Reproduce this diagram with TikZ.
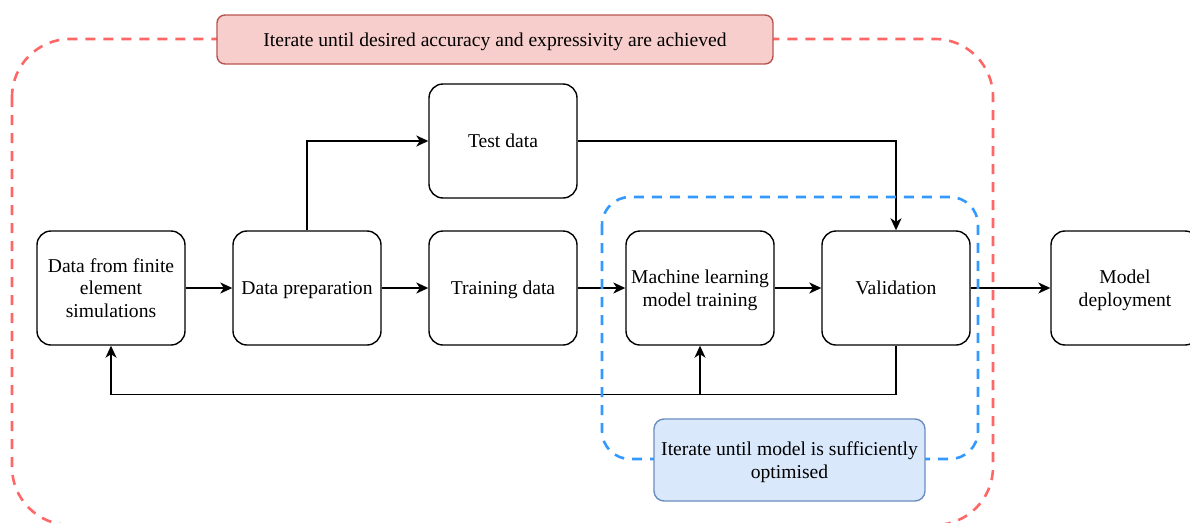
\documentclass[tikz,border=0pt]{standalone}
\usepackage{fontspec}
\setmainfont{Liberation Serif}
\usetikzlibrary{arrows.meta}
\definecolor{redline}{HTML}{FF6666}
\definecolor{redfill}{HTML}{F8CECC}
\definecolor{redborder}{HTML}{B85450}
\definecolor{blueline}{HTML}{3399FF}
\definecolor{bluefill}{HTML}{DAE8FC}
\definecolor{blueborder}{HTML}{6C8EBF}
\begin{document}
\begin{tikzpicture}[x=1pt,y=-1pt,
  txt/.style={font=\fontsize{19.6}{22.5}\selectfont, align=center, inner sep=0pt, text=black, text depth=-4pt},
  box/.style={txt, draw=black, fill=white, line width=1.4pt, rounded corners=14pt, minimum width=148pt, minimum height=114pt},
  arr/.style={draw=black, line width=1.4pt, -{Stealth[length=12pt,width=11pt,inset=3.5pt]}},
  reddash/.style={draw=redline, line width=2.6pt, dash pattern=on 10pt off 8pt, rounded corners=58pt},
  bluedash/.style={draw=blueline, line width=2.6pt, dash pattern=on 10pt off 8pt, rounded corners=28pt},
  redlabel/.style={txt, draw=redborder, fill=redfill, line width=1.4pt, rounded corners=8pt, minimum width=556pt, minimum height=49pt},
  bluelabel/.style={txt, draw=blueborder, fill=bluefill, line width=1.4pt, rounded corners=10pt, minimum width=271pt, minimum height=82pt}
]
\useasboundingbox (0,0) rectangle (1190,522);
% nodes
\node[box] (dfe) at (111,288) {Data from finite\\element\\simulations};
\node[box] (prep) at (307,288) {Data preparation};
\node[box] (train) at (503,288) {Training data};
\node[box] (test) at (503,141) {Test data};
\node[box] (ml) at (700,288) {Machine learning\\model training};
\node[box] (val) at (896,288) {Validation};
\node[box] (dep) at (1125,288) {Model\\deployment};
% connectors
\draw[arr] (dfe) -- (prep);
\draw[arr] (prep) -- (train);
\draw[arr] (prep.north) |- (test.west);
\draw[arr] (train) -- (ml);
\draw[arr] (ml) -- (val);
\draw[arr] (test.east) -| (val.north);
\draw[arr] (val) -- (dep);
\draw[arr] (val.south) -- ++(0,49) coordinate (loop) -| (dfe.south);
\draw[arr] (loop -| ml.south) -- (ml.south);
% containers
\draw[reddash] (12,39) rectangle (993,525);
\draw[bluedash] (602,197) rectangle (978,459);
% labels
\node[redlabel] (outer) at (495,39.5) {Iterate until desired accuracy and expressivity are achieved};
\node[bluelabel] (inner) at (789.5,460) {Iterate until model is sufficiently\\optimised};
\end{tikzpicture}
\end{document}
